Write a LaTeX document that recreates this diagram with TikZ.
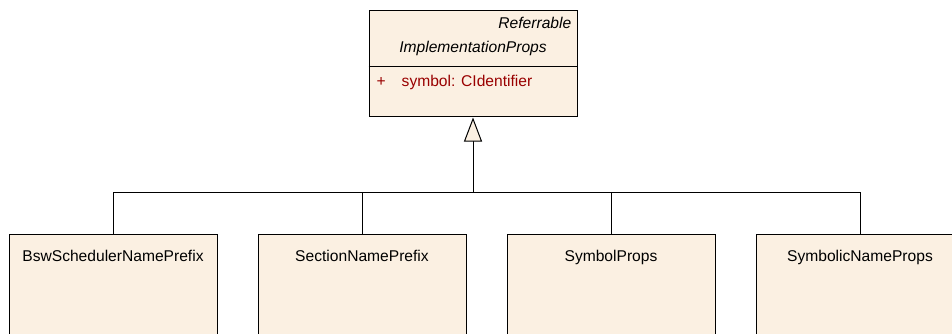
\documentclass[tikz,border=0pt]{standalone}
\usepackage{fontspec}
\setmainfont{Liberation Sans}
\usepackage{tikz}
\usetikzlibrary{arrows.meta,positioning,calc}
\definecolor{umlFill}{HTML}{FBF0E2}
\definecolor{umlAttr}{HTML}{990000}

\begin{document}
\begin{tikzpicture}[
  x=1pt, y=-1pt,
  font=\fontsize{15.6}{18}\selectfont,
  node distance=40pt,
  cls/.style={draw=black, line width=1pt, fill=umlFill, minimum width=208pt, inner sep=0pt},
  sub/.style={cls, minimum height=112pt},
  ttl/.style={anchor=base, inner sep=0pt},
  gen/.style={line width=1pt},
  inh/.style={gen, -{Triangle[length=24pt, width=18pt, fill=umlFill]}}
]
  \clip (0,0) rectangle (952,334);
  \fill[white] (0,0) rectangle (952,334);

  % parent class
  \node[cls, minimum height=106pt] (impl) at (473,64) {};
  \draw[gen] ([yshift=-56pt]impl.north west) -- ([yshift=-56pt]impl.north east);
  \node[ttl, anchor=base east, font=\fontsize{15.6}{18}\selectfont\itshape] (stereo) at ($(impl.north east)+(-6,18)$) {Referrable};
  \node[ttl, font=\fontsize{15.6}{18}\selectfont\itshape] (implname) at ($(impl.north)+(0,42)$) {ImplementationProps};
  \node[ttl, anchor=base west, text=umlAttr] (plus) at ($(impl.north west)+(8,76)$) {+};
  \node[ttl, anchor=base west, text=umlAttr] (attr) at ($(impl.north west)+(33,76)$) {symbol: CIdentifier};

  % subclasses
  \node[sub] (bsw) at (113,290) {};
  \node[sub, right=of bsw] (sect) {};
  \node[sub, right=of sect] (sym) {};
  \node[sub, right=of sym] (symname) {};

  \node[ttl] (bswname) at ($(bsw.north)+(0,28)$) {BswSchedulerNamePrefix};
  \node[ttl] (sectname) at ($(sect.north)+(0,28)$) {SectionNamePrefix};
  \node[ttl] (symlbl) at ($(sym.north)+(0,28)$) {SymbolProps};
  \node[ttl] (symnamelbl) at ($(symname.north)+(0,28)$) {SymbolicNameProps};

  % generalization tree
  \coordinate (hub) at (impl.south |- 0,192);
  \draw[gen] (bsw.north) |- (hub);
  \draw[gen] (sect.north) |- (hub);
  \draw[gen] (sym.north) |- (hub);
  \draw[gen] (symname.north) |- (hub);
  \draw[inh] (hub) -- (impl.south);
\end{tikzpicture}
\end{document}
